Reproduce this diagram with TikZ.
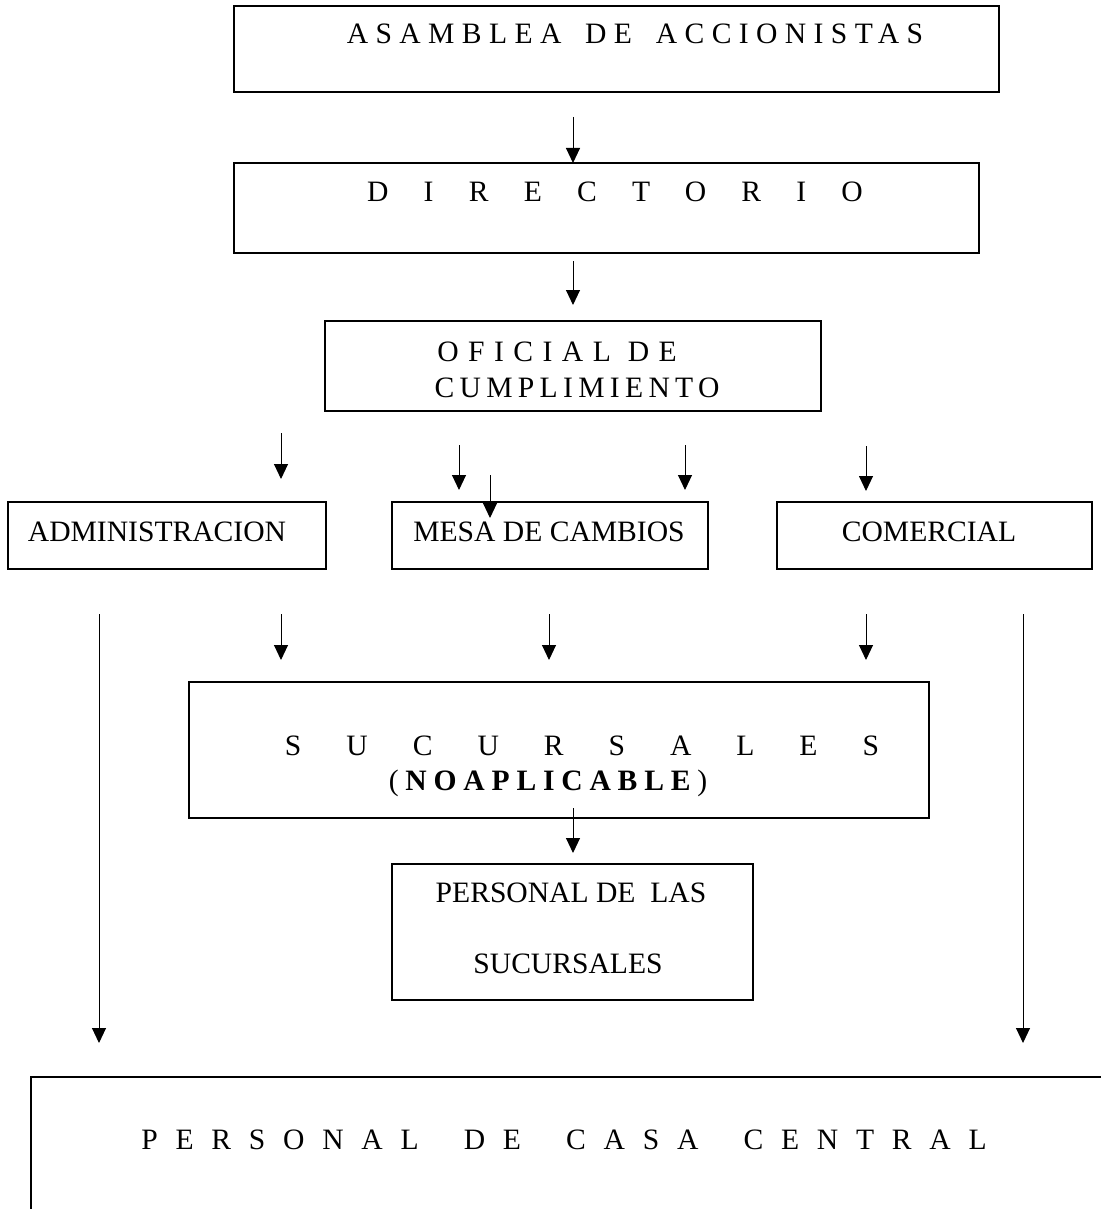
\documentclass[tikz,border=0pt]{standalone}
\usepackage{fontspec}
\setmainfont{Liberation Serif}
\usetikzlibrary{arrows.meta}
\usetikzlibrary{fit}
\tikzset{>={Triangle[length=7.5pt,width=7pt]}}
\tikzset{box/.style={draw, line width=0.6pt, inner sep=0pt}}
\tikzset{lbl/.style={inner sep=0pt, anchor=base, font=\fontsize{14.8}{17}\selectfont}}
\tikzset{con/.style={->, line width=0.5pt}}
\newcommand{\spaced}[2]{{\addfontfeature{LetterSpace=#1}#2}}

\begin{document}
\begin{tikzpicture}[x=0.5pt, y=-0.5pt]
        \useasboundingbox (0,0) rectangle (1101,1209);

        % boxes
        \node[box, fit={(234,6) (999,92)}] (asamblea) {};
        \node[box, fit={(234,163) (979,253)}] (directorio) {};
        \node[box, fit={(325,321) (821,411)}] (oficial) {};
        \node[box, fit={(8,502) (326,569)}] (admin) {};
        \node[box, fit={(392,502) (708,569)}] (mesa) {};
        \node[box, fit={(777,502) (1092,569)}] (comercial) {};
        \node[box, fit={(189,682) (929,818)}] (sucursales) {};
        \node[box, fit={(392,864) (753,1000)}] (personalsuc) {};
        \node[box, fit={(31,1077) (1120,1230)}] (central) {};

        % texts
        \node[lbl] (asamblea-t) at (635,44) {\spaced{25}{ASAMBLEA\hspace{4.5pt} DE\hspace{4.5pt} ACCIONISTAS}};
        \node[lbl] (directorio-t) at (615,202) {\spaced{119}{DIRECTORIO}};
        \node[lbl] (oficial-t1) at (557,361) {\spaced{32}{OFICIAL DE}};
        \node[lbl] (oficial-t2) at (577,397) {\spaced{18}{CUMPLIMIENTO}};
        \node[lbl] (admin-t) at (157,541) {ADMINISTRACION};
        \node[lbl] (mesa-t) at (549,541) {MESA DE CAMBIOS};
        \node[lbl] (comercial-t) at (929,541) {COMERCIAL};
        \node[lbl] (sucursales-t1) at (582,755) {\spaced{152}{SUCURSALES}};
        \node[lbl] (sucursales-t2) at (548,790) {\spaced{23}{(\textbf{NOAPLICABLE})}};
        \node[lbl] (personalsuc-t1) at (571,902) {PERSONAL DE~ LAS};
        \node[lbl] (personalsuc-t2) at (568,973) {SUCURSALES};
        \node[lbl] (central-t) at (564,1149) {\spaced{60}{PERSONAL\hspace{10pt} DE\hspace{10pt} CASA\hspace{10pt} CENTRAL}};

        % arrow ends
        \coordinate (a1) at (573,117);  \coordinate (b1) at (573,163);
        \coordinate (a2) at (573,261);  \coordinate (b2) at (573,305);
        \coordinate (a3) at (281,433);  \coordinate (b3) at (281,479);
        \coordinate (a4) at (459,445);  \coordinate (b4) at (459,490);
        \coordinate (a5) at (490,475);  \coordinate (b5) at (490,518);
        \coordinate (a6) at (685,445);  \coordinate (b6) at (685,490);
        \coordinate (a7) at (866,446);  \coordinate (b7) at (866,491);
        \coordinate (a8) at (99,614);   \coordinate (b8) at (99,1043);
        \coordinate (a9) at (281,614);  \coordinate (b9) at (281,660);
        \coordinate (a10) at (549,614); \coordinate (b10) at (549,660);
        \coordinate (a11) at (866,614); \coordinate (b11) at (866,660);
        \coordinate (a12) at (1023,614); \coordinate (b12) at (1023,1043);
        \coordinate (a13) at (573,808); \coordinate (b13) at (573,853);

        \draw[con] (a1) -- (b1);
        \draw[con] (a2) -- (b2);
        \draw[con] (a3) -- (b3);
        \draw[con] (a4) -- (b4);
        \draw[con] (a5) -- (b5);
        \draw[con] (a6) -- (b6);
        \draw[con] (a7) -- (b7);
        \draw[con] (a8) -- (b8);
        \draw[con] (a9) -- (b9);
        \draw[con] (a10) -- (b10);
        \draw[con] (a11) -- (b11);
        \draw[con] (a12) -- (b12);
        \draw[con] (a13) -- (b13);
\end{tikzpicture}
\end{document}
